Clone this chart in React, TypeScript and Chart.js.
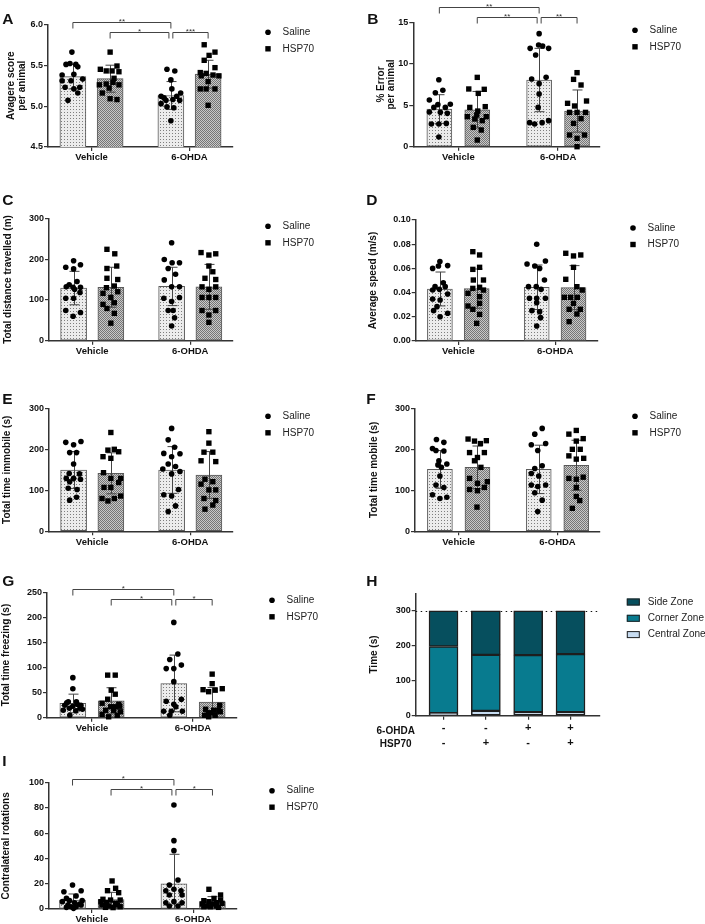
import React, { useEffect, useRef } from 'react';
import { Chart, registerables } from 'chart.js';

Chart.register(...registerables);

const FONT = "'Liberation Sans', Arial, Helvetica, sans-serif";
Chart.defaults.font.family = FONT;
Chart.defaults.color = '#111';

// ---------------- DATA ----------------
const GROUPS = ['Vehicle', '6-OHDA'];
const SERIES = ['Saline', 'HSP70'];

// Each dot: [x jitter (category units), value]
// Panel A – Avagere score per animal
const A_MEAN_SALINE = [5.36, 5.13];
const A_MEAN_HSP70 = [5.335, 5.39];
const A_SD_SALINE = [0.15, 0.17];
const A_SD_HSP70 = [0.165, 0.17];
const A_SALINE_VEH = [[-0.01, 5.66], [-0.07, 5.51], [-0.03, 5.52], [0.03, 5.51], [0.05, 5.48], [-0.11, 5.38], [0.01, 5.39], [0.1, 5.33], [-0.02, 5.31], [-0.08, 5.23], [0.01, 5.21], [0.07, 5.23], [0.05, 5.16], [-0.05, 5.07], [-0.11, 5.31]];
const A_HSP70_VEH = [[0, 5.66], [0.07, 5.49], [-0.1, 5.45], [-0.04, 5.43], [0.02, 5.43], [0.09, 5.42], [-0.11, 5.26], [0.04, 5.34], [-0.04, 5.27], [0.09, 5.26], [-0.01, 5.22], [-0.08, 5.16], [0, 5.09], [0.07, 5.08], [0.03, 5.29]];
const A_SALINE_OHDA = [[-0.04, 5.45], [0.04, 5.43], [0, 5.32], [0.1, 5.16], [-0.1, 5.12], [0.01, 5.21], [-0.05, 5.07], [0.02, 5.08], [-0.04, 4.99], [0.03, 4.98], [-0.1, 5.03], [0, 4.82], [0.09, 5.07], [-0.07, 5.1], [0.06, 5.12]];
const A_HSP70_OHDA = [[-0.04, 5.75], [0.07, 5.66], [0.01, 5.62], [-0.04, 5.56], [0.07, 5.47], [-0.08, 5.41], [-0.02, 5.4], [0.05, 5.38], [0.11, 5.37], [0, 5.3], [-0.08, 5.21], [-0.02, 5.21], [0.07, 5.21], [0, 5.01], [-0.07, 5.37]];
const A_SIG = ['**', '*', '***'];
const A_SIG_LEVELS = [6.024, 5.91];

// Panel B – % Error per animal
const B_MEAN_SALINE = [4.54, 8.04];
const B_MEAN_HSP70 = [4.46, 4.3];
const B_SD_SALINE = [1.73, 3.82];
const B_SD_HSP70 = [2.2, 2.54];
const B_SALINE_VEH = [[-0.005, 8.08], [-0.04, 6.51], [0.035, 6.8], [-0.1, 5.63], [-0.015, 5.07], [0.11, 5.11], [0.06, 4.74], [-0.055, 4.74], [-0.1, 4.18], [0.01, 4.14], [0.08, 4.02], [-0.08, 2.73], [-0.005, 2.73], [0.07, 2.81], [-0.005, 1.17]];
const B_HSP70_VEH = [[0, 8.36], [-0.085, 6.96], [0.07, 6.92], [0.01, 6.43], [-0.075, 4.74], [0.005, 4.3], [0.08, 4.83], [-0.1, 3.62], [-0.025, 3.34], [0.09, 3.62], [0.05, 3.14], [-0.04, 2.33], [0.04, 2.01], [0, 0.8], [-0.005, 3.82]];
const B_SALINE_OHDA = [[0, 13.63], [-0.005, 12.26], [0.035, 12.14], [-0.09, 11.86], [0.095, 11.86], [-0.035, 11.06], [-0.075, 8.16], [0.07, 8.36], [0, 7.6], [0, 6.35], [-0.01, 4.74], [-0.095, 2.9], [-0.045, 2.73], [0.03, 2.9], [0.095, 3.14]];
const B_HSP70_OHDA = [[0, 8.93], [-0.035, 8.12], [0.04, 7.44], [-0.095, 5.23], [-0.025, 4.91], [0.095, 5.51], [-0.075, 4.14], [0, 4.14], [0.085, 4.14], [0.04, 3.38], [-0.035, 2.81], [-0.075, 1.41], [0, 1.01], [0.075, 1.41], [0, 0]];
const B_SIG = ['**', '**', '**'];
const B_SIG_LEVELS = [16.81, 15.6];

// Panel C – Total distance travelled (m)
const C_MEAN_SALINE = [129, 133];
const C_MEAN_HSP70 = [131, 132];
const C_SD_SALINE = [41, 47];
const C_SD_HSP70 = [49, 55];
const C_SALINE_VEH = [[0, 196], [0.07, 186], [-0.08, 180], [0, 176], [-0.045, 137], [0.035, 145], [-0.075, 132], [-0.005, 131], [0.07, 131], [0.01, 126], [0.065, 118], [-0.08, 104], [0, 104], [-0.08, 74], [0.07, 69], [-0.005, 60]];
const C_HSP70_VEH = [[-0.04, 224], [0.04, 213], [0.06, 183], [-0.04, 177], [-0.04, 153], [0.07, 150], [-0.045, 130], [0.035, 134], [-0.08, 116], [0, 106], [0.07, 120], [-0.08, 89], [0.035, 93], [-0.04, 79], [0.035, 67], [0, 43]];
const C_SALINE_OHDA = [[0, 240], [-0.075, 199], [0.005, 191], [0.08, 191], [0.04, 163], [-0.075, 149], [0, 132], [0.08, 132], [-0.08, 104], [0.08, 106], [0, 96], [-0.035, 74], [0.015, 74], [0.03, 56], [0, 36], [-0.035, 177]];
const C_HSP70_OHDA = [[-0.08, 216], [0, 210], [0.07, 213], [0, 183], [0.04, 169], [-0.04, 153], [0.07, 150], [0, 126], [-0.07, 132], [0.07, 132], [-0.07, 106], [0, 106], [0.07, 106], [-0.07, 74], [0.07, 74], [0, 63], [0, 45]];

// Panel D – Average speed (m/s)
const D_MEAN_SALINE = [0.043, 0.0444];
const D_MEAN_HSP70 = [0.0433, 0.0441];
const D_SD_SALINE = [0.014, 0.0184];
const D_SD_HSP70 = [0.0162, 0.0182];
const D_SALINE_VEH = [[0, 0.0656], [-0.075, 0.06], [0.08, 0.0623], [-0.015, 0.062], [-0.05, 0.0449], [0.035, 0.0482], [0.055, 0.0449], [-0.005, 0.0427], [-0.075, 0.0421], [0.08, 0.0388], [-0.075, 0.0347], [0.002, 0.0339], [-0.065, 0.0251], [0.08, 0.0229], [0.002, 0.0201], [-0.03, 0.0284]];
const D_HSP70_VEH = [[-0.04, 0.0738], [0.03, 0.0711], [0.03, 0.0609], [-0.04, 0.0592], [-0.035, 0.0504], [0.07, 0.0504], [-0.04, 0.0435], [0.03, 0.0444], [-0.09, 0.0394], [0.03, 0.0366], [-0.09, 0.0289], [-0.04, 0.0262], [0.03, 0.0311], [0.03, 0.022], [0, 0.0146], [0.07, 0.0421]];
const D_SALINE_OHDA = [[0, 0.0799], [-0.1, 0.0636], [0.09, 0.0661], [-0.02, 0.062], [0.03, 0.06], [0.08, 0.0504], [-0.085, 0.0449], [-0.005, 0.0449], [0.045, 0.0427], [-0.075, 0.0353], [0, 0.0353], [0.09, 0.0353], [0, 0.0317], [-0.05, 0.0251], [0.03, 0.0242], [0.04, 0.0193], [0, 0.0124]];
const D_HSP70_OHDA = [[-0.08, 0.0725], [0, 0.0703], [0.075, 0.0711], [0, 0.0609], [-0.08, 0.051], [0.035, 0.0449], [0.09, 0.0421], [-0.095, 0.0361], [-0.03, 0.0361], [0.04, 0.0361], [-0.045, 0.0262], [0.07, 0.0262], [0.035, 0.0223], [-0.045, 0.016], [0, 0.0311]];

// Panel E – Total time immobile (s)
const E_MEAN_SALINE = [149.6, 149.6];
const E_MEAN_HSP70 = [141.5, 137.4];
const E_SD_SALINE = [45, 57];
const E_SD_HSP70 = [50, 57];
const E_SALINE_VEH = [[-0.08, 217], [0, 211], [0.075, 219], [-0.04, 192], [0.03, 192], [0, 164], [-0.045, 141], [0.06, 140], [-0.075, 129], [0, 129], [0.07, 127], [-0.04, 121], [0.035, 102], [-0.055, 105], [-0.04, 76], [0.03, 83]];
const E_HSP70_VEH = [[0, 241], [-0.03, 198], [0.035, 200], [-0.08, 182], [0.08, 194], [0, 178], [-0.075, 143], [0, 129], [0.1, 129], [0.08, 119], [-0.07, 107], [0, 107], [-0.09, 80], [-0.03, 74], [0.035, 80], [0.1, 86]];
const E_SALINE_OHDA = [[0, 251], [-0.035, 223], [0.03, 205], [-0.08, 190], [0.085, 189], [0, 182], [-0.035, 164], [0.04, 158], [-0.09, 152], [0.085, 146], [0, 140], [0.07, 102], [-0.08, 89], [0, 86], [0.04, 62], [-0.035, 48]];
const E_HSP70_OHDA = [[0, 243], [0, 215], [-0.08, 172], [-0.05, 193], [0.04, 193], [0.07, 170], [-0.04, 127], [-0.08, 115], [0.04, 121], [0, 101], [0.07, 101], [-0.05, 80], [0.07, 75], [0.04, 64], [-0.04, 54]];

// Panel F – Total time mobile (s)
const F_MEAN_SALINE = [151, 151];
const F_MEAN_HSP70 = [156, 161];
const F_SD_SALINE = [46, 59];
const F_SD_HSP70 = [52, 61];
const F_SALINE_VEH = [[-0.035, 224], [0.04, 217], [-0.075, 202], [-0.04, 197], [0.04, 196], [-0.01, 172], [0.07, 164], [-0.02, 162], [0, 135], [-0.04, 113], [0.04, 107], [-0.075, 89], [0, 80], [0.07, 83], [0.015, 156]];
const F_HSP70_VEH = [[-0.095, 225], [-0.03, 220], [0.09, 221], [0.03, 214], [-0.08, 192], [0, 180], [0.07, 192], [-0.03, 172], [0.035, 156], [-0.08, 129], [0, 117], [0.1, 121], [-0.08, 102], [0, 99], [0.07, 107], [-0.005, 59]];
const F_SALINE_OHDA = [[0.035, 251], [-0.04, 237], [0.07, 214], [-0.075, 211], [-0.01, 197], [0.035, 160], [-0.075, 141], [-0.04, 153], [0, 135], [-0.075, 113], [0.07, 113], [-0.01, 109], [-0.04, 94], [0.035, 76], [-0.01, 48]];
const F_HSP70_OHDA = [[0, 246], [-0.075, 237], [0.07, 226], [0, 220], [-0.04, 200], [0.04, 200], [-0.075, 184], [0, 176], [0.075, 178], [-0.075, 129], [0.07, 132], [0, 127], [0, 107], [0, 85], [0.035, 75], [-0.04, 56]];

// Panel G – Total time freezing (s)
const G_MEAN_SALINE = [28.6, 68.4];
const G_MEAN_HSP70 = [33.9, 31.2];
const G_SD_SALINE = [18.5, 56.5];
const G_SD_HSP70 = [26, 29];
const G_SALINE_VEH = [[0, 80], [0, 58], [-0.045, 32], [0.035, 32], [-0.08, 25], [0.08, 25], [0, 23], [-0.095, 15], [0.095, 17], [0.03, 14], [-0.035, 19], [-0.03, 5], [0.07, 19], [0.045, 27], [-0.06, 30]];
const G_HSP70_VEH = [[-0.035, 85], [0.04, 85], [0, 55], [0.04, 47], [-0.035, 37], [-0.09, 29], [0.075, 27], [-0.005, 22], [0.04, 22], [0.085, 23], [-0.055, 15], [0.025, 15], [0.09, 12], [-0.09, 7], [-0.025, 2], [0.06, 5]];
const G_SALINE_OHDA = [[0, 190], [0.04, 127], [-0.04, 116], [-0.075, 98], [0, 98], [0.075, 105], [0, 72], [-0.075, 33], [0.075, 37], [0, 27], [-0.1, 13], [-0.025, 13], [0.085, 13], [-0.04, 5], [0.02, 22]];
const G_HSP70_OHDA = [[0, 87], [0, 68], [-0.09, 56], [-0.035, 52], [0.03, 55], [0.1, 58], [0.075, 25], [-0.065, 17], [0.015, 15], [0.065, 15], [-0.015, 10], [-0.075, 5], [-0.035, 2], [0.03, 5], [0.08, 12], [-0.04, 9]];
const G_SIG = ['*', '*', '*'];
const G_SIG_LEVELS = [256.6, 237.3];

// Panel H – time per zone (s)
const H_OHDA = ['-', '-', '+', '+'];
const H_HSP70 = ['-', '+', '-', '+'];
const H_CENTRAL = [7, 14, 10, 10];
const H_CORNER = [191, 160, 163, 166];
const H_SIDE = [102, 126, 127, 124];
const H_ZONES = ['Side Zone', 'Corner Zone', 'Central Zone'];
const H_Y_TICKS = [0, 100, 200, 300];
const H_TOTAL = 300;

// Panel I – Contralateral rotations
const I_MEAN_SALINE = [7.1, 20];
const I_MEAN_HSP70 = [7.4, 5.8];
const I_SD_SALINE = [4.8, 23.3];
const I_SD_HSP70 = [5.8, 4];
const I_SALINE_VEH = [[0, 19], [-0.085, 13.7], [0.085, 14.5], [-0.06, 8.4], [0.035, 10.3], [-0.03, 6.6], [0.095, 6.6], [-0.1, 5.8], [0.02, 5], [0.07, 4], [-0.045, 3.2], [-0.015, 1.8], [0.035, 1.8], [-0.06, 1.3], [0.01, 0.5], [0.085, 3.2]];
const I_HSP70_VEH = [[0.01, 22.2], [-0.035, 14.5], [0.045, 16.4], [0.075, 12.9], [-0.08, 7.7], [-0.005, 7.1], [0.09, 7.1], [-0.045, 5], [0.045, 4.5], [-0.09, 3.2], [-0.025, 2.4], [0.065, 3.2], [-0.055, 1.3], [0.02, 1.1], [0.09, 1.8], [-0.1, 5.8]];
const I_SALINE_OHDA = [[0, 82.3], [0, 54.1], [0, 46.2], [0.04, 23], [-0.045, 19], [-0.08, 14.5], [0, 15.6], [0.07, 14.5], [-0.045, 11.1], [0.08, 11.1], [-0.08, 5], [0, 5.8], [0.08, 5], [-0.045, 2.4], [0.04, 2.4]];
const I_HSP70_OHDA = [[-0.035, 15.6], [0.08, 11.1], [0.015, 8.4], [-0.085, 6.6], [0.08, 7.1], [-0.035, 5.8], [0.04, 5], [-0.1, 4], [0, 4], [0.095, 4.5], [-0.06, 2.4], [0.04, 2.4], [-0.02, 1.8], [-0.085, 1.8], [0.06, 1.3]];
const I_SIG = ['*', '*', '*'];
const I_SIG_LEVELS = [102.7, 95];

// ---------------- LAYOUT / STYLE ----------------
const BAR_DX = 0.19;
const BRACKET_SPANS = [
  { x1: -BAR_DX, x2: 1 - BAR_DX, level: 0 },
  { x1: BAR_DX, x2: 1 - BAR_DX - 0.02, level: 1 },
  { x1: 1 - BAR_DX + 0.02, x2: 1 + BAR_DX, level: 1 },
];

function makePattern(ctx: CanvasRenderingContext2D, kind: string) {
  const c = document.createElement('canvas');
  const g = c.getContext('2d') as CanvasRenderingContext2D;
  if (kind === 'saline') {
    c.width = 3; c.height = 3;
    g.fillStyle = '#ececec'; g.fillRect(0, 0, 3, 3);
    g.fillStyle = '#7e7e7e'; g.fillRect(1, 1, 1, 1);
  } else {
    c.width = 2; c.height = 2;
    g.fillStyle = '#c8c8c8'; g.fillRect(0, 0, 2, 2);
    g.fillStyle = '#767676'; g.fillRect(0, 0, 1, 1); g.fillRect(1, 1, 1, 1);
  }
  return ctx.createPattern(c, 'repeat');
}

const errorBarPlugin = {
  id: 'errorBars',
  afterDatasetDraw(chart: any, args: any) {
    const ds = chart.data.datasets[args.index];
    if (!ds.sd) return;
    const ctx = chart.ctx;
    const ys = chart.scales.y;
    const bottom = chart.chartArea.bottom;
    ctx.save();
    ctx.strokeStyle = '#444';
    ctx.lineWidth = 1;
    args.meta.data.forEach((el: any, j: number) => {
      const m = ds.data[j].y;
      const s = ds.sd[j];
      const y1 = ys.getPixelForValue(m + s);
      let y2 = ys.getPixelForValue(m - s);
      const clipped = y2 > bottom;
      if (clipped) y2 = bottom;
      const x = Math.round(el.x) + 0.5;
      ctx.beginPath();
      ctx.moveTo(x, y1); ctx.lineTo(x, y2);
      ctx.moveTo(x - 5, y1); ctx.lineTo(x + 5, y1);
      if (!clipped) { ctx.moveTo(x - 5, y2); ctx.lineTo(x + 5, y2); }
      ctx.stroke();
    });
    ctx.restore();
  },
};

function annotPlugin(brackets: any[]) {
  return {
    id: 'annot',
    afterDraw(chart: any) {
      const ctx = chart.ctx;
      const xs = chart.scales.x;
      const ys = chart.scales.y;
      const area = chart.chartArea;
      ctx.save();
      ctx.strokeStyle = '#444';
      ctx.lineWidth = 1;
      ctx.fillStyle = '#333';
      ctx.font = `8px ${FONT}`;
      ctx.textAlign = 'center';
      ctx.textBaseline = 'alphabetic';
      brackets.forEach((b) => {
        const x1 = xs.getPixelForValue(b.x1);
        const x2 = xs.getPixelForValue(b.x2);
        const y = Math.round(ys.getPixelForValue(b.y)) + 0.5;
        ctx.beginPath();
        ctx.moveTo(x1, y + 6); ctx.lineTo(x1, y); ctx.lineTo(x2, y); ctx.lineTo(x2, y + 6);
        ctx.stroke();
        ctx.fillText(b.label, (x1 + x2) / 2, y + 1.5);
      });
      const lx = area.right + 35;
      const ly = area.top + 8;
      ctx.fillStyle = '#000';
      ctx.beginPath(); ctx.arc(lx, ly, 2.8, 0, Math.PI * 2); ctx.fill();
      ctx.fillRect(lx - 2.7, ly + 16.5 - 2.7, 5.4, 5.4);
      ctx.fillStyle = '#222';
      ctx.font = `10px ${FONT}`;
      ctx.textAlign = 'left';
      ctx.textBaseline = 'middle';
      ctx.fillText(SERIES[0], lx + 14.5, ly);
      ctx.fillText(SERIES[1], lx + 14.5, ly + 16.5);
      ctx.restore();
    },
  };
}

function toPoints(arr: number[][], base: number) {
  return arr.map(([dx, y]) => ({ x: base + dx, y }));
}

const AXIS_GRID = { drawOnChartArea: false, drawTicks: true, tickLength: 4, color: '#333', lineWidth: 1.2, offset: false };
const AXIS_BORDER = { display: true, color: '#333', width: 1.5 };

function buildBarConfig(p: any, ctx: CanvasRenderingContext2D) {
  const salinePat = makePattern(ctx, 'saline');
  const hspPat = makePattern(ctx, 'hsp');
  const xs0 = GROUPS.map((_, g) => g - BAR_DX);
  const xs1 = GROUPS.map((_, g) => g + BAR_DX);
  const brackets = p.sig
    ? BRACKET_SPANS.map((s, i) => ({ x1: s.x1, x2: s.x2, y: p.sigLevels[s.level], label: p.sig[i] }))
    : [];
  const barCommon = {
    type: 'bar',
    borderColor: '#5a5a5a',
    borderWidth: 1,
    borderSkipped: false,
    barThickness: p.barW,
    grouped: false,
    order: 2,
  };
  return {
    type: 'bar',
    data: {
      datasets: [
        { ...barCommon, label: SERIES[0], data: p.meanSaline.map((m: number, g: number) => ({ x: xs0[g], y: m })), sd: p.sdSaline, backgroundColor: salinePat },
        { ...barCommon, label: SERIES[1], data: p.meanHsp.map((m: number, g: number) => ({ x: xs1[g], y: m })), sd: p.sdHsp, backgroundColor: hspPat },
        {
          type: 'scatter', label: SERIES[0] + ' points',
          data: [...toPoints(p.salVeh, xs0[0]), ...toPoints(p.salOhda, xs0[1])],
          pointStyle: 'circle', pointRadius: 2.8, backgroundColor: '#000', borderWidth: 0, order: 1, clip: false,
        },
        {
          type: 'scatter', label: SERIES[1] + ' points',
          data: [...toPoints(p.hspVeh, xs1[0]), ...toPoints(p.hspOhda, xs1[1])],
          pointStyle: 'rect', pointRadius: 3.8, backgroundColor: '#000', borderWidth: 0, order: 1, clip: false,
        },
      ],
    },
    options: {
      animation: false,
      responsive: false,
      maintainAspectRatio: false,
      devicePixelRatio: 1,
      events: [],
      layout: { padding: { left: 0, right: p.width - p.area.r, top: p.area.t, bottom: 0 } },
      plugins: { legend: { display: false }, tooltip: { enabled: false } },
      scales: {
        x: {
          type: 'linear',
          offset: false,
          min: p.xMin,
          max: p.xMax,
          afterBuildTicks: (s: any) => { s.ticks = GROUPS.map((_, i) => ({ value: i })); },
          ticks: {
            callback: (v: number) => GROUPS[v],
            font: { size: 9.5, weight: 'bold', family: FONT },
            color: '#111',
            padding: 1,
            maxRotation: 0,
            autoSkip: false,
          },
          grid: AXIS_GRID,
          border: AXIS_BORDER,
          afterFit: (s: any) => { s.height = p.height - p.area.b; },
        },
        y: {
          type: 'linear',
          min: p.yMin,
          max: p.yMax,
          ticks: {
            stepSize: p.yStep,
            callback: (v: number) => Number(v).toFixed(p.decimals),
            font: { size: 9, weight: 'bold', family: FONT },
            color: '#111',
            padding: 1,
          },
          grid: AXIS_GRID,
          border: AXIS_BORDER,
          title: {
            display: true,
            text: p.title,
            font: { size: 10, weight: 'bold', family: FONT, lineHeight: 1.05 },
            color: '#111',
            padding: { top: p.titleOffset - 5.25, bottom: 0 },
          },
          afterFit: (s: any) => { s.width = p.area.l; },
        },
      },
    },
    plugins: [errorBarPlugin, annotPlugin(brackets)],
  };
}

function buildHConfig(p: any) {
  const idx = H_CENTRAL.map((_, i) => i);
  const common = { borderColor: '#1e1e1e', borderWidth: 1.5, borderSkipped: false, barThickness: 29 };
  const zoneColors = ['#064f5e', '#087b8f', '#c7dcf1'];
  const hPlugin = {
    id: 'hAnnot',
    beforeDatasetsDraw(chart: any) {
      const ctx = chart.ctx;
      const area = chart.chartArea;
      const y = Math.round(chart.scales.y.getPixelForValue(H_TOTAL)) + 0.5;
      ctx.save();
      ctx.strokeStyle = '#111';
      ctx.lineWidth = 1;
      ctx.setLineDash([1.5, 3.5]);
      ctx.beginPath(); ctx.moveTo(area.left, y); ctx.lineTo(area.right, y); ctx.stroke();
      ctx.restore();
    },
    afterDraw(chart: any) {
      const ctx = chart.ctx;
      const area = chart.chartArea;
      ctx.save();
      ctx.fillStyle = '#111';
      ctx.font = `bold 10px ${FONT}`;
      ctx.textAlign = 'center';
      ctx.textBaseline = 'middle';
      ctx.fillText('6-OHDA', area.left - 20, area.bottom + 16);
      ctx.fillText('HSP70', area.left - 20, area.bottom + 28.5);
      const lx = area.right + 27.5;
      const ly = area.top + 8.7;
      ctx.font = `10px ${FONT}`;
      ctx.textAlign = 'left';
      H_ZONES.forEach((z, i) => {
        const yy = ly + i * 16.3;
        ctx.fillStyle = zoneColors[i];
        ctx.fillRect(lx, yy - 3.5, 13, 7);
        ctx.strokeStyle = '#222';
        ctx.lineWidth = 1;
        ctx.strokeRect(lx + 0.5, yy - 3.5 + 0.5, 12, 6);
        ctx.fillStyle = '#222';
        ctx.fillText(z, lx + 21, yy);
      });
      ctx.restore();
    },
  };
  return {
    type: 'bar',
    data: {
      datasets: [
        { ...common, label: H_ZONES[2], data: H_CENTRAL.map((v, i) => ({ x: i, y: v })), backgroundColor: zoneColors[2] },
        { ...common, label: H_ZONES[1], data: H_CORNER.map((v, i) => ({ x: i, y: v })), backgroundColor: zoneColors[1] },
        { ...common, label: H_ZONES[0], data: H_SIDE.map((v, i) => ({ x: i, y: v })), backgroundColor: zoneColors[0] },
      ],
    },
    options: {
      animation: false,
      responsive: false,
      maintainAspectRatio: false,
      devicePixelRatio: 1,
      events: [],
      layout: { padding: { left: 0, right: p.width - p.area.r, top: p.area.t, bottom: 0 } },
      plugins: { legend: { display: false }, tooltip: { enabled: false } },
      scales: {
        x: {
          type: 'linear',
          offset: false,
          stacked: true,
          min: -0.657,
          max: 3.68,
          afterBuildTicks: (s: any) => { s.ticks = idx.map((i) => ({ value: i })); },
          ticks: {
            callback: (v: number) => [H_OHDA[v], H_HSP70[v]],
            font: { size: 11, weight: 'bold', family: FONT, lineHeight: 1.364 },
            color: '#111',
            padding: 1,
            maxRotation: 0,
            autoSkip: false,
          },
          grid: AXIS_GRID,
          border: AXIS_BORDER,
          afterFit: (s: any) => { s.height = p.height - p.area.b; },
        },
        y: {
          type: 'linear',
          stacked: true,
          min: 0,
          max: 350,
          afterBuildTicks: (s: any) => { s.ticks = H_Y_TICKS.map((v) => ({ value: v })); },
          ticks: { font: { size: 9, weight: 'bold', family: FONT }, color: '#111', padding: 1 },
          grid: AXIS_GRID,
          border: AXIS_BORDER,
          title: {
            display: true,
            text: 'Time (s)',
            font: { size: 10, weight: 'bold', family: FONT, lineHeight: 1.05 },
            color: '#111',
            padding: { top: p.titleOffset - 5.25, bottom: 0 },
          },
          afterFit: (s: any) => { s.width = p.area.l; },
        },
      },
    },
    plugins: [hPlugin],
  };
}

const PANELS: any[] = [
  {
    letter: 'A', left: 0, top: 0, width: 350, height: 190, area: { l: 48, r: 233, t: 24.3, b: 147 },
    xMin: -0.444, xMax: 1.444, barW: 26, yMin: 4.5, yMax: 6, yStep: 0.5, decimals: 1,
    title: ['Avagere score', 'per animal'], titleOffset: 11.5,
    meanSaline: A_MEAN_SALINE, meanHsp: A_MEAN_HSP70, sdSaline: A_SD_SALINE, sdHsp: A_SD_HSP70,
    salVeh: A_SALINE_VEH, hspVeh: A_HSP70_VEH, salOhda: A_SALINE_OHDA, hspOhda: A_HSP70_OHDA,
    sig: A_SIG, sigLevels: A_SIG_LEVELS, letterPos: [2.3, 11],
  },
  {
    letter: 'B', left: 350, top: 0, width: 355, height: 190, area: { l: 63.3, r: 250, t: 22.3, b: 146.7 },
    xMin: -0.451, xMax: 1.42, barW: 25, yMin: 0, yMax: 15, yStep: 5, decimals: 0,
    title: ['% Error', 'per animal'], titleOffset: 31,
    meanSaline: B_MEAN_SALINE, meanHsp: B_MEAN_HSP70, sdSaline: B_SD_SALINE, sdHsp: B_SD_HSP70,
    salVeh: B_SALINE_VEH, hspVeh: B_HSP70_VEH, salOhda: B_SALINE_OHDA, hspOhda: B_HSP70_OHDA,
    sig: B_SIG, sigLevels: B_SIG_LEVELS, letterPos: [367.3, 11],
  },
  {
    letter: 'C', left: 0, top: 190, width: 350, height: 200, area: { l: 49, r: 233, t: 28.3, b: 150.7 },
    xMin: -0.441, xMax: 1.436, barW: 26, yMin: 0, yMax: 300, yStep: 100, decimals: 0,
    title: 'Total distance travelled (m)', titleOffset: 8.5,
    meanSaline: C_MEAN_SALINE, meanHsp: C_MEAN_HSP70, sdSaline: C_SD_SALINE, sdHsp: C_SD_HSP70,
    salVeh: C_SALINE_VEH, hspVeh: C_HSP70_VEH, salOhda: C_SALINE_OHDA, hspOhda: C_HSP70_OHDA,
    letterPos: [2.3, 192],
  },
  {
    letter: 'D', left: 350, top: 190, width: 355, height: 200, area: { l: 65.7, r: 248, t: 30, b: 151 },
    xMin: -0.44, xMax: 1.443, barW: 25, yMin: 0, yMax: 0.1, yStep: 0.02, decimals: 2,
    title: 'Average speed (m/s)', titleOffset: 23,
    meanSaline: D_MEAN_SALINE, meanHsp: D_MEAN_HSP70, sdSaline: D_SD_SALINE, sdHsp: D_SD_HSP70,
    salVeh: D_SALINE_VEH, hspVeh: D_HSP70_VEH, salOhda: D_SALINE_OHDA, hspOhda: D_HSP70_OHDA,
    letterPos: [366.3, 192],
  },
  {
    letter: 'E', left: 0, top: 390, width: 350, height: 170, area: { l: 49, r: 233, t: 18.3, b: 141.3 },
    xMin: -0.441, xMax: 1.436, barW: 26, yMin: 0, yMax: 300, yStep: 100, decimals: 0,
    title: 'Total time immobile (s)', titleOffset: 7.5,
    meanSaline: E_MEAN_SALINE, meanHsp: E_MEAN_HSP70, sdSaline: E_SD_SALINE, sdHsp: E_SD_HSP70,
    salVeh: E_SALINE_VEH, hspVeh: E_HSP70_VEH, salOhda: E_SALINE_OHDA, hspOhda: E_HSP70_OHDA,
    letterPos: [2.3, 391],
  },
  {
    letter: 'F', left: 350, top: 390, width: 355, height: 170, area: { l: 65, r: 250, t: 18.3, b: 141.3 },
    xMin: -0.442, xMax: 1.43, barW: 25, yMin: 0, yMax: 300, yStep: 100, decimals: 0,
    title: 'Total time mobile (s)', titleOffset: 24,
    meanSaline: F_MEAN_SALINE, meanHsp: F_MEAN_HSP70, sdSaline: F_SD_SALINE, sdHsp: F_SD_HSP70,
    salVeh: F_SALINE_VEH, hspVeh: F_HSP70_VEH, salOhda: F_SALINE_OHDA, hspOhda: F_HSP70_OHDA,
    letterPos: [366.3, 391],
  },
  {
    letter: 'G', left: 0, top: 560, width: 350, height: 195, area: { l: 47, r: 237, t: 32.3, b: 157.8 },
    xMin: -0.446, xMax: 1.436, barW: 26, yMin: 0, yMax: 250, yStep: 50, decimals: 0,
    title: 'Total time freezing (s)', titleOffset: 6.7,
    meanSaline: G_MEAN_SALINE, meanHsp: G_MEAN_HSP70, sdSaline: G_SD_SALINE, sdHsp: G_SD_HSP70,
    salVeh: G_SALINE_VEH, hspVeh: G_HSP70_VEH, salOhda: G_SALINE_OHDA, hspOhda: G_HSP70_OHDA,
    sig: G_SIG, sigLevels: G_SIG_LEVELS, letterPos: [2.3, 573],
  },
  {
    letter: 'H', kind: 'H', left: 350, top: 560, width: 355, height: 200, area: { l: 65.7, r: 249.3, t: 33.3, b: 155.7 },
    titleOffset: 24.5, letterPos: [366.3, 573],
  },
  {
    letter: 'I', left: 0, top: 760, width: 350, height: 164, area: { l: 49, r: 237, t: 22.7, b: 149 },
    xMin: -0.422, xMax: 1.432, barW: 26, yMin: 0, yMax: 100, yStep: 20, decimals: 0,
    title: 'Contralateral rotations', titleOffset: 6.7,
    meanSaline: I_MEAN_SALINE, meanHsp: I_MEAN_HSP70, sdSaline: I_SD_SALINE, sdHsp: I_SD_HSP70,
    salVeh: I_SALINE_VEH, hspVeh: I_HSP70_VEH, salOhda: I_SALINE_OHDA, hspOhda: I_HSP70_OHDA,
    sig: I_SIG, sigLevels: I_SIG_LEVELS, letterPos: [2.3, 753],
  },
];

function ChartPanel({ panel }: { panel: any }) {
  const ref = useRef<HTMLCanvasElement | null>(null);
  useEffect(() => {
    const canvas = ref.current;
    if (!canvas) return;
    const ctx = canvas.getContext('2d') as CanvasRenderingContext2D;
    const config: any = panel.kind === 'H' ? buildHConfig(panel) : buildBarConfig(panel, ctx);
    const chart = new Chart(ctx, config);
    return () => chart.destroy();
  }, [panel]);
  return (
    <canvas
      ref={ref}
      width={panel.width}
      height={panel.height}
      style={{ position: 'absolute', left: panel.left, top: panel.top, width: panel.width, height: panel.height }}
    />
  );
}

export default function App() {
  useEffect(() => {
    document.body.style.margin = '0';
  }, []);
  return (
    <div style={{ position: 'absolute', left: 0, top: 0, width: 705, height: 924, background: '#fff', overflow: 'hidden' }}>
      {PANELS.map((p) => (
        <ChartPanel key={p.letter} panel={p} />
      ))}
      {PANELS.map((p) => (
        <div
          key={'L' + p.letter}
          style={{
            position: 'absolute',
            left: p.letterPos[0],
            top: p.letterPos[1],
            fontFamily: FONT,
            fontWeight: 'bold',
            fontSize: 15.5,
            lineHeight: 1,
            color: '#111',
          }}
        >
          {p.letter}
        </div>
      ))}
    </div>
  );
}
